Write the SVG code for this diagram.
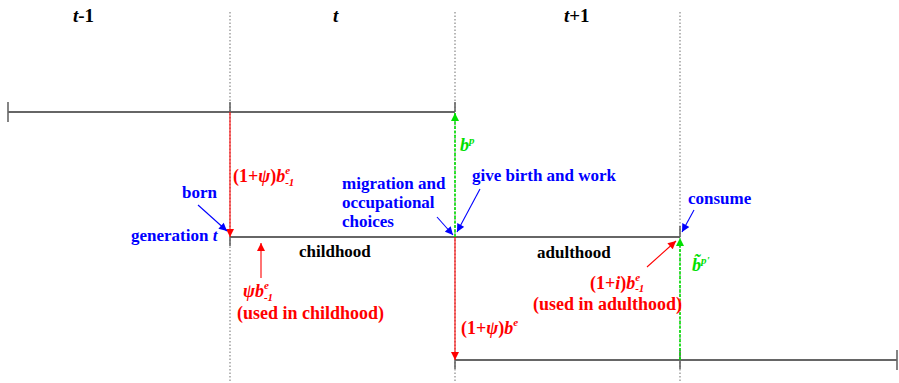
<svg xmlns="http://www.w3.org/2000/svg" width="899" height="383" viewBox="0 0 899 383">
<style>
text{font-family:"Liberation Serif","Times New Roman",serif;font-weight:bold;font-size:17px}
.hd{font-size:19px;fill:#000}
.k{fill:#000}
.b{fill:#0000ff}
.r{fill:#ff0000;font-size:18px}
.g{fill:#00e000;font-size:18px}
.i{font-style:italic}
.sm{font-size:11px;font-style:italic}
.dot{stroke:#888;stroke-width:1.2;stroke-dasharray:1.5 2;fill:none}
.tl{stroke:#333;stroke-width:1.3;fill:none}
.tk{stroke:#666;stroke-width:1.6;fill:none}
.rl{stroke:#ff0000;stroke-width:1.1;fill:none}
.gl{stroke:#00e000;stroke-width:1.6;stroke-dasharray:3 1.5;fill:none}
.bl{stroke:#0000ff;stroke-width:1.1;fill:none}
</style>
<defs>
<marker id="mr" viewBox="0 0 10 10" refX="10" refY="5" markerWidth="9" markerHeight="8" markerUnits="userSpaceOnUse" orient="auto"><path d="M0,0L10,5L0,10z" fill="#ff0000"/></marker>
<marker id="mg" viewBox="0 0 10 10" refX="10" refY="5" markerWidth="9" markerHeight="8" markerUnits="userSpaceOnUse" orient="auto"><path d="M0,0L10,5L0,10z" fill="#00e000"/></marker>
<marker id="mb" viewBox="0 0 10 10" refX="10" refY="5" markerWidth="9" markerHeight="8" markerUnits="userSpaceOnUse" orient="auto"><path d="M0,0L10,5L0,10z" fill="#0000ff"/></marker>
</defs>

<g id="grid">
<line class="dot" x1="230" y1="12" x2="230" y2="383"/>
<line class="dot" x1="455" y1="12" x2="455" y2="383"/>
<line class="dot" x1="680" y1="12" x2="680" y2="383"/>
</g>

<g id="headers">
<text class="hd" x="73" y="22"><tspan class="i">t</tspan>-1</text>
<text class="hd i" x="333" y="22">t</text>
<text class="hd" x="564" y="22"><tspan class="i">t</tspan>+1</text>
</g>

<g id="timeline-top">
<line class="tl" x1="8" y1="112" x2="455" y2="112"/>
<line class="tk" x1="8" y1="102" x2="8" y2="122"/>
<line class="tk" x1="230" y1="102" x2="230" y2="112"/>
<line class="tk" x1="455" y1="102" x2="455" y2="112"/>
</g>

<g id="timeline-mid">
<line class="tl" x1="230" y1="237" x2="680" y2="237"/>
<line class="tk" x1="230" y1="237" x2="230" y2="246"/>
<line class="tk" x1="680" y1="226" x2="680" y2="237"/>
</g>

<g id="timeline-bottom">
<line class="tl" x1="455" y1="360" x2="897" y2="360"/>
<line class="tk" x1="455" y1="360" x2="455" y2="369"/>
<line class="tk" x1="680" y1="350" x2="680" y2="369"/>
<line class="tk" x1="897" y1="350" x2="897" y2="370"/>
</g>

<g id="connectors">
<line class="rl" x1="230" y1="112" x2="230" y2="237" marker-end="url(#mr)"/>
<line class="gl" x1="455" y1="237" x2="455" y2="113" marker-end="url(#mg)"/>
<line class="rl" x1="455" y1="237" x2="455" y2="360" marker-end="url(#mr)"/>
<line class="gl" x1="680" y1="360" x2="680" y2="238" marker-end="url(#mg)"/>
<line class="rl" x1="261" y1="278" x2="261" y2="243" marker-end="url(#mr)"/>
<line class="rl" x1="647" y1="267" x2="676" y2="241" marker-end="url(#mr)"/>
<line class="bl" x1="198" y1="205" x2="227" y2="231" marker-end="url(#mb)"/>
<line class="bl" x1="437" y1="217" x2="453" y2="235" marker-end="url(#mb)"/>
<line class="bl" x1="480" y1="189" x2="457" y2="232" marker-end="url(#mb)"/>
<line class="bl" x1="694" y1="210" x2="682" y2="232" marker-end="url(#mb)"/>
</g>

<g id="label-born"><text class="b" x="182" y="198">born</text></g>
<g id="label-generation"><text class="b" x="131" y="241">generation <tspan class="i">t</tspan></text></g>
<g id="label-migration">
<text class="b" x="342" y="189">migration and</text>
<text class="b" x="342" y="208">occupational</text>
<text class="b" x="342" y="227">choices</text>
</g>
<g id="label-givebirth"><text class="b" x="472" y="181">give birth and work</text></g>
<g id="label-consume"><text class="b" x="688" y="204">consume</text></g>
<g id="label-childhood"><text class="k" x="299" y="257">childhood</text></g>
<g id="label-adulthood"><text class="k" x="537" y="258">adulthood</text></g>

<g id="label-transfer-parent">
<text class="r" x="233" y="182">(1+<tspan class="i">ψ</tspan>)<tspan class="i">b</tspan><tspan class="sm" dy="-8">e</tspan><tspan class="sm" dx="-5" dy="12">-1</tspan></text>
</g>
<g id="label-childhood-use">
<text class="r" x="243" y="297"><tspan class="i">ψb</tspan><tspan class="sm" dy="-8">e</tspan><tspan class="sm" dx="-5" dy="12">-1</tspan></text>
<text class="r" x="237" y="319">(used in childhood)</text>
</g>
<g id="label-adulthood-use">
<text class="r" x="590" y="289">(1+<tspan class="i">i</tspan>)<tspan class="i">b</tspan><tspan class="sm" dy="-8">e</tspan><tspan class="sm" dx="-5" dy="11">-1</tspan></text>
<text class="r" x="533" y="310">(used in adulthood)</text>
</g>
<g id="label-transfer-own">
<text class="r" x="461" y="334">(1+<tspan class="i">ψ</tspan>)<tspan class="i">b</tspan><tspan class="sm" dy="-8">e</tspan></text>
</g>
<g id="label-bp">
<text class="g i" x="460" y="151">b<tspan class="sm" dy="-7">p</tspan></text>
</g>
<g id="label-btilde">
<text class="g i" x="692" y="271">b̃<tspan class="sm" dy="-7">p'</tspan></text>
</g>
</svg>
